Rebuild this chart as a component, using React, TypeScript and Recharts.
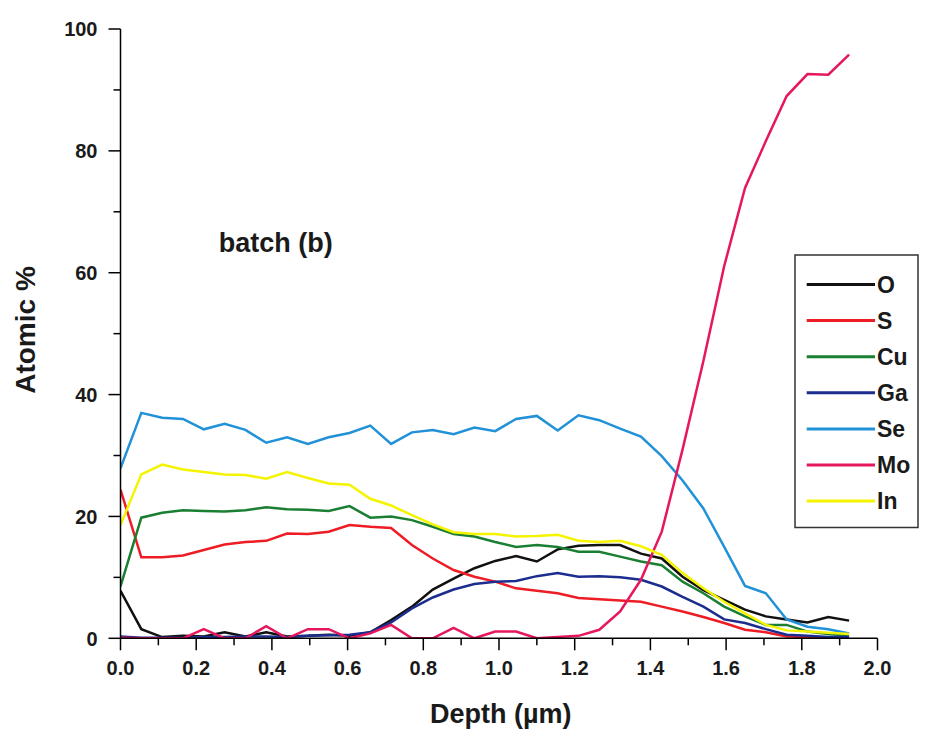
import React from 'react';
import { LineChart, Line, XAxis, YAxis } from 'recharts';

const depth = [0, 0.055, 0.11, 0.165, 0.22, 0.275, 0.33, 0.385, 0.44, 0.495, 0.55, 0.605, 0.66, 0.715, 0.77, 0.825, 0.88, 0.935, 0.99, 1.045, 1.1, 1.155, 1.21, 1.265, 1.32, 1.375, 1.43, 1.485, 1.54, 1.595, 1.65, 1.705, 1.76, 1.815, 1.87, 1.925];

const O = [7.8, 1.5, 0.2, 0.4, 0.3, 1.0, 0.3, 1.0, 0.3, 0.4, 0.6, 0.4, 1.0, 3.0, 5.2, 8.0, 9.8, 11.5, 12.7, 13.5, 12.6, 14.6, 15.2, 15.3, 15.3, 13.9, 13.1, 10.1, 7.9, 6.3, 4.7, 3.6, 3.1, 2.6, 3.5, 2.9];
const S = [24.4, 13.3, 13.3, 13.6, 14.5, 15.4, 15.8, 16.0, 17.2, 17.1, 17.5, 18.6, 18.3, 18.1, 15.3, 13.1, 11.2, 10.1, 9.3, 8.2, 7.8, 7.4, 6.6, 6.4, 6.2, 6.0, 5.2, 4.4, 3.5, 2.5, 1.4, 1.0, 0.3, 0.2, 0.1, 0.1];
const Cu = [8.5, 19.8, 20.6, 21.0, 20.9, 20.8, 21.0, 21.5, 21.2, 21.1, 20.9, 21.7, 19.8, 20.0, 19.4, 18.3, 17.1, 16.7, 15.8, 15.0, 15.3, 15.0, 14.2, 14.2, 13.4, 12.6, 12.0, 9.3, 7.4, 5.2, 3.6, 2.2, 2.2, 1.1, 0.7, 0.4];
const Ga = [0.3, 0.1, 0.1, 0.1, 0.2, 0.2, 0.3, 0.3, 0.2, 0.4, 0.5, 0.6, 1.0, 2.6, 4.9, 6.7, 8.0, 8.9, 9.3, 9.4, 10.2, 10.7, 10.1, 10.2, 10.0, 9.6, 8.5, 6.8, 5.2, 3.1, 2.5, 1.5, 0.6, 0.4, 0.2, 0.2];
const Se = [27.9, 37.0, 36.2, 36.0, 34.3, 35.2, 34.2, 32.1, 33.0, 31.9, 33.0, 33.7, 34.9, 31.9, 33.8, 34.2, 33.5, 34.6, 34.0, 36.0, 36.5, 34.1, 36.6, 35.8, 34.4, 33.1, 29.9, 25.9, 21.3, 15.0, 8.6, 7.4, 3.1, 1.9, 1.5, 0.8];
const Mo = [0.1, 0, 0, 0, 1.5, 0, 0, 2.0, 0, 1.5, 1.5, 0, 0.8, 2.2, 0, 0, 1.7, 0, 1.1, 1.1, 0, 0.2, 0.4, 1.4, 4.4, 9.6, 17.5, 31.0, 45.5, 61.1, 73.9, 81.6, 89.0, 92.6, 92.5, 95.8];
const In = [18.6, 26.9, 28.5, 27.7, 27.3, 26.9, 26.8, 26.2, 27.3, 26.3, 25.4, 25.2, 22.9, 21.8, 20.2, 18.7, 17.4, 17.1, 17.1, 16.7, 16.8, 17.0, 16.0, 15.8, 16.0, 15.1, 13.7, 10.7, 8.2, 6.0, 4.1, 2.2, 1.3, 1.1, 0.9, 0.7];

const xTicks = [0, 0.1, 0.2, 0.3, 0.4, 0.5, 0.6, 0.7, 0.8, 0.9, 1.0, 1.1, 1.2, 1.3, 1.4, 1.5, 1.6, 1.7, 1.8, 1.9, 2.0];
const yTicks = [0, 10, 20, 30, 40, 50, 60, 70, 80, 90, 100];

const seriesNames = ['O', 'S', 'Cu', 'Ga', 'Se', 'Mo', 'In'];
const seriesColors = ['#111111', '#ee1c25', '#1a7f32', '#1b2d8e', '#2191d8', '#e6175c', '#f4f400'];
const seriesValues = [O, S, Cu, Ga, Se, Mo, In];

const rows = depth.map((d, i) => {
  const r: Record<string, number> = { depth: d };
  seriesNames.forEach((n, k) => { r[n] = seriesValues[k][i]; });
  return r;
});

const FONT = '"Liberation Sans", Arial, Helvetica, sans-serif';

const XTick = (props: any) => {
  const { x, y, payload } = props;
  const v = payload.value as number;
  const major = Math.round(v * 10) % 2 === 0;
  return (
    <g>
      <line x1={x} x2={x} y1={y} y2={y + (major ? 12 : 7)} stroke="#000" strokeWidth={1.5} />
      {major && (
        <text x={x} y={y + 37} textAnchor="middle" fontFamily={FONT} fontWeight="bold" fontSize={20} fill="#1a1a1a">
          {v.toFixed(1)}
        </text>
      )}
    </g>
  );
};

const YTick = (props: any) => {
  const { x, y, payload } = props;
  const v = payload.value as number;
  const major = Math.round(v) % 20 === 0;
  return (
    <g>
      <line x1={x} x2={x - (major ? 12 : 7)} y1={y} y2={y} stroke="#000" strokeWidth={1.5} />
      {major && (
        <text x={x - 23} y={y} dy="0.36em" textAnchor="end" fontFamily={FONT} fontWeight="bold" fontSize={20} fill="#1a1a1a">
          {String(v)}
        </text>
      )}
    </g>
  );
};

const XLabel = () => (
  <text x={492.8} y={715} textAnchor="middle" fontFamily={FONT} fontWeight="bold" fontSize={27} fill="#1a1a1a">
    Depth (µm)
  </text>
);

const YLabel = () => (
  <text x={27} y={322} transform="rotate(-90 27 322)" textAnchor="middle" fontFamily={FONT} fontWeight="bold" fontSize={28} fill="#1a1a1a">
    Atomic %
  </text>
);

export default function App() {
  return (
    <div style={{ position: 'relative', width: 918, height: 723 }}>
      <LineChart width={918} height={723} data={rows} margin={{ top: 21, right: 48.5, left: 0, bottom: 32.7 }}>
        <XAxis
          type="number"
          dataKey="depth"
          domain={[0, 2]}
          ticks={xTicks}
          interval={0}
          tickSize={0}
          tickMargin={0}
          tickLine={false}
          tick={<XTick />}
          axisLine={{ stroke: '#000', strokeWidth: 1.5 }}
          height={60}
          allowDataOverflow
          label={<XLabel />}
        />
        <YAxis
          type="number"
          domain={[0, 100]}
          ticks={yTicks}
          interval={0}
          tickSize={0}
          tickMargin={0}
          tickLine={false}
          tick={<YTick />}
          axisLine={{ stroke: '#000', strokeWidth: 1.5 }}
          width={112.5}
          allowDataOverflow
          label={<YLabel />}
        />
        {seriesNames.map((n, k) => (
          <Line
            key={n}
            type="linear"
            dataKey={n}
            stroke={seriesColors[k]}
            strokeWidth={2.5}
            dot={false}
            isAnimationActive={false}
          />
        ))}
      </LineChart>
      <svg width={918} height={723} style={{ position: 'absolute', left: 0, top: 0, pointerEvents: 'none' }}>
        <text x={267.8} y={243.7} textAnchor="middle" fontFamily={FONT} fontWeight="bold" fontSize={27} fill="#1a1a1a">
          batch (b)
        </text>
        <g transform="translate(787,247)">
          <rect x={0} y={0} width={123} height={272.5} fill="#fff" stroke="#333" strokeWidth={1.5} />
          {seriesNames.map((n, k) => (
            <g key={n} transform={`translate(0, ${29.5 + 36.1 * k})`}>
              <line x1={11.7} x2={80} y1={0} y2={0} stroke={seriesColors[k]} strokeWidth={3} />
              <text x={82} y={0} dy="0.36em" fontFamily={FONT} fontWeight="bold" fontSize={23} fill="#1a1a1a">
                {n}
              </text>
            </g>
          ))}
        </g>
      </svg>
    </div>
  );
}
